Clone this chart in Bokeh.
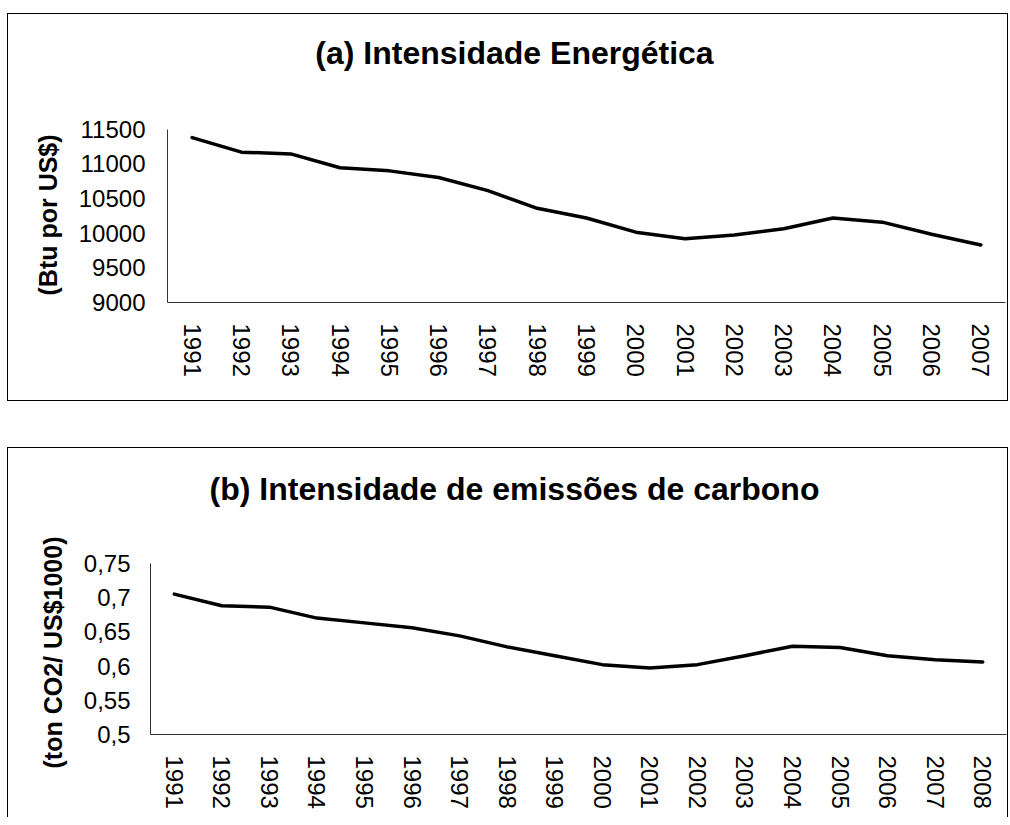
from bokeh.plotting import figure
from bokeh.models import FixedTicker, Range1d, FactorRange, Label, Title
from bokeh.embed import file_html
from bokeh.resources import INLINE

# ---- data ----
years_a = ["1991", "1992", "1993", "1994", "1995", "1996", "1997", "1998", "1999",
           "2000", "2001", "2002", "2003", "2004", "2005", "2006", "2007"]
energy_intensity = [11380, 11170, 11145, 10945, 10900, 10805, 10615, 10360, 10220,
                    10015, 9920, 9975, 10065, 10220, 10160, 9985, 9830]
yticks_a = [9000, 9500, 10000, 10500, 11000, 11500]
yticklabels_a = ["9000", "9500", "10000", "10500", "11000", "11500"]

years_b = ["1991", "1992", "1993", "1994", "1995", "1996", "1997", "1998", "1999",
           "2000", "2001", "2002", "2003", "2004", "2005", "2006", "2007", "2008"]
carbon_intensity = [0.705, 0.688, 0.686, 0.670, 0.663, 0.656, 0.644, 0.628, 0.615,
                    0.602, 0.597, 0.602, 0.615, 0.629, 0.627, 0.615, 0.609, 0.606]
yticks_b = [0.5, 0.55, 0.6, 0.65, 0.7, 0.75]
yticklabels_b = ["0,5", "0,55", "0,6", "0,65", "0,7", "0,75"]

title_a = "(a) Intensidade Energética"
title_b = "(b) Intensidade de emissões de carbono"
ylabel_a = "(Btu por US$)"
ylabel_b = "(ton CO2/ US$1000)"

FONT = "Liberation Sans"


def make_panel(cats, vals, ticks, ticklabels, title, ylabel, width, height,
               mb, axis_px, title_off, ylab_offset, tick_standoff):
    # frame spans from the top of the panel down to the x axis; the y axis line
    # itself is bounded to the tick range, leaving room for the title above it
    frame_px = height - 2 - mb[2] - mb[3]
    lo, hi = ticks[0], ticks[-1]
    y_end = lo + (hi - lo) * frame_px / axis_px
    p = figure(x_range=FactorRange(*cats), y_range=Range1d(lo, y_end),
               width=width, height=height, output_backend="svg",
               toolbar_location=None,
               min_border_left=mb[0], min_border_right=mb[1],
               min_border_top=mb[2], min_border_bottom=mb[3])
    p.line(x=cats, y=vals, line_color="black", line_width=3.5,
           line_join="round", line_cap="round")
    p.add_layout(Label(x=0, y=lo, x_offset=title_off[0], y_offset=title_off[1],
                       text=title, text_align="center", text_baseline="middle",
                       text_font=FONT, text_font_size="32px", text_font_style="bold",
                       text_color="black"))
    # vertical axis title, anchored to the bottom of the frame
    p.add_layout(Title(text=ylabel, align="left", offset=ylab_offset, standoff=27,
                       text_font=FONT, text_font_size="25px", text_font_style="bold",
                       text_color="black"), "left")
    p.outline_line_color = None
    p.background_fill_color = "white"
    p.border_fill_color = "white"
    p.xgrid.grid_line_color = None
    p.ygrid.grid_line_color = None

    for ax in (p.xaxis[0], p.yaxis[0]):
        ax.axis_line_color = "#333333"
        ax.axis_line_width = 1
        ax.major_tick_line_color = None
        ax.minor_tick_line_color = None
        ax.major_tick_out = 0
        ax.major_tick_in = 0
        ax.minor_tick_out = 0
        ax.minor_tick_in = 0
        ax.major_label_text_font = FONT
        ax.major_label_text_font_size = "24px"
        ax.major_label_text_color = "black"

    p.yaxis.bounds = (lo, hi)
    p.yaxis.ticker = FixedTicker(ticks=ticks)
    p.yaxis.major_label_overrides = {t: l for t, l in zip(ticks, ticklabels)}
    p.yaxis.major_label_standoff = tick_standoff

    p.xaxis.major_label_orientation = "vertical"
    p.xaxis.major_label_standoff = 21
    return p


pa = make_panel(years_a, energy_intensity, yticks_a, yticklabels_a, title_a, ylabel_a,
                width=1001, height=388, mb=(159, 4, 0, 100), axis_px=172,
                title_off=(347, 250), ylab_offset=7, tick_standoff=22)
pa.styles = {"border": "1px solid black", "box-sizing": "border-box"}
pa.margin = (13, 0, 0, 7)

pb = make_panel(years_b, carbon_intensity, yticks_b, yticklabels_b, title_b, ylabel_b,
                width=1001, height=370, mb=(142, 3, 0, 84), axis_px=170,
                title_off=(364, 246), ylab_offset=-34, tick_standoff=20)
pb.styles = {"border-top": "1px solid black", "border-left": "1px solid black",
             "border-right": "1px solid black", "box-sizing": "border-box"}
pb.margin = (46, 0, 0, 7)

open("out.html", "w").write(file_html([pa, pb], INLINE))
